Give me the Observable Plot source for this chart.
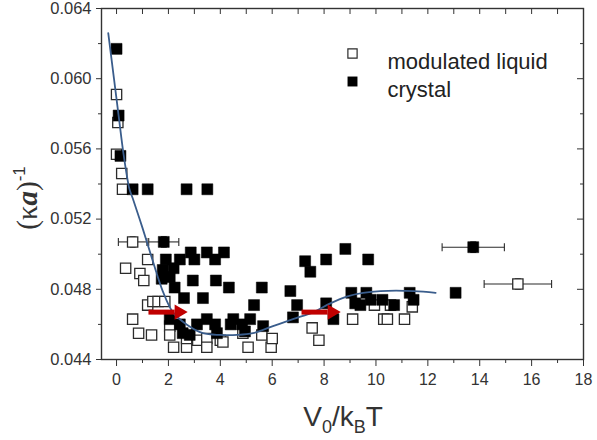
<!DOCTYPE html>
<html>
<head>
<meta charset="utf-8">
<script src="https://cdn.jsdelivr.net/npm/d3@7"></script>
<script src="https://cdn.jsdelivr.net/npm/@observablehq/plot@0.6"></script>
<style>
  body { margin: 0; background: #fff; }
  #chart { width: 597px; height: 440px; }
</style>
</head>
<body>
<div id="chart"></div>
<script>
// Screening length (κa)^-1 versus barrier height V0/kBT

// modulated liquid (open squares)
const liquidV = [0.0, 0.05, 0.0, 0.2, 0.23, 1.2, 0.35, 0.9, 1.05, 1.2, 1.4, 1.6, 1.86,
  0.62, 0.85, 1.35, 2.05, 2.05, 2.2, 2.7, 2.7, 3.13, 3.48, 3.48, 4.0, 4.1, 4.87, 5.07,
  5.6, 5.96, 6.0, 7.54, 7.8, 9.1, 9.94, 10.56, 11.4, 10.3, 10.44, 11.1];
const liquidK = [0.0591, 0.0575, 0.0557, 0.0546, 0.0537, 0.0497, 0.0492, 0.0489, 0.0485, 0.0471, 0.0473, 0.0473, 0.0473,
  0.0463, 0.0455, 0.0454, 0.0459, 0.0454, 0.0447, 0.0447, 0.0452, 0.0451, 0.0452, 0.0447, 0.0451, 0.0450, 0.0455, 0.0447,
  0.0454, 0.0447, 0.0452, 0.0458, 0.0451, 0.0463, 0.0471, 0.0471, 0.0470, 0.0463, 0.0463, 0.0463];

// crystal (filled squares)
const crystalV = [0.0, 0.08, 0.15, 0.62, 1.2, 2.7, 3.5, 2.86, 3.48, 4.14, 1.9, 2.44, 3.0, 3.8,
  2.2, 1.78, 2.05, 1.74, 2.24, 2.94, 3.83, 4.33, 5.6, 6.7, 6.96, 2.6, 3.33, 5.3, 6.8,
  2.05, 3.48, 4.5, 5.15, 2.44, 3.1, 3.8, 4.4, 4.84, 5.65, 2.55, 2.82, 3.87, 4.95,
  8.82, 7.27, 8.08, 9.7, 7.47, 9.05, 9.63, 11.3, 13.07, 8.08, 9.2, 9.4, 9.8, 10.25, 10.7, 11.45, 8.36];
const crystalK = [0.0617, 0.0579, 0.0556, 0.0537, 0.0537, 0.0537, 0.0537, 0.0501, 0.0501, 0.0501, 0.0497, 0.0497, 0.0497, 0.0497,
  0.0492, 0.0491, 0.0487, 0.0486, 0.0481, 0.0485, 0.0485, 0.0481, 0.0481, 0.0479, 0.0471, 0.0475, 0.0475, 0.0471, 0.0464,
  0.0463, 0.0463, 0.0463, 0.0463, 0.0460, 0.0460, 0.0460, 0.0460, 0.0460, 0.0459, 0.0455, 0.0454, 0.0455, 0.0456,
  0.0503, 0.0496, 0.0497, 0.0497, 0.0490, 0.0478, 0.0478, 0.0478, 0.0478, 0.0472, 0.0472, 0.0471, 0.0474, 0.0474, 0.0471, 0.0474, 0.0463];

// points carrying error bars
const errPhase = ["liquid", "crystal", "crystal", "liquid"];
const errV = [0.62, 1.82, 13.75, 15.47];
const errK = [0.0507, 0.0507, 0.0504, 0.0483];
const errDV = [0.55, 0.58, 1.2, 1.3];
const errDK = [0.0003, 0.0003, 0.0003, 0.0003];

// guide-to-the-eye curve
const fitV = [-0.32, 0.08, 0.27, 0.5, 0.62, 1.0, 1.4, 1.78, 2.17, 2.7, 3.33, 4.0, 4.64, 5.26,
  6.03, 6.8, 7.6, 8.24, 8.9, 9.5, 10.17, 11.45, 12.3];
const fitK = [0.0626, 0.0579, 0.0557, 0.0537, 0.0532, 0.0515, 0.0496, 0.0479, 0.0467, 0.0460, 0.0455, 0.0454, 0.0454, 0.0455,
  0.0459, 0.0463, 0.0467, 0.0472, 0.0476, 0.0478, 0.0479, 0.0479, 0.0478];

// red arrows: shaft start, shaft end (head base) and level
const arrowFrom = [1.23, 7.13];
const arrowTo = [2.24, 8.14];
const arrowK = [0.0467, 0.0467];

// axis ticks
const xMajor = [0, 2, 4, 6, 8, 10, 12, 14, 16, 18];
const xMinor = [1, 3, 5, 7, 9, 11, 13, 15, 17];
const yMajor = [0.044, 0.048, 0.052, 0.056, 0.060, 0.064];
const yMinor = [0.046, 0.050, 0.054, 0.058, 0.062];

const legendLabels = ["modulated liquid", "crystal"];

const liquid = liquidV.map((v, i) => ({v, k: liquidK[i]}));
const crystal = crystalV.map((v, i) => ({v, k: crystalK[i]}));
const errs = errV.map((v, i) => ({phase: errPhase[i], v, k: errK[i], dv: errDV[i], dk: errDK[i]}));
const fit = fitV.map((v, i) => ({v, k: fitK[i]}));
const arrows = arrowFrom.map((a, i) => ({a, b: arrowTo[i], k: arrowK[i]}));

// small bar symbols used as error-bar caps
const vCap = {draw(ctx, size) { const r = Math.sqrt(size / Math.PI); ctx.moveTo(0, -r); ctx.lineTo(0, r); }};
const hCap = {draw(ctx, size) { const r = Math.sqrt(size / Math.PI); ctx.moveTo(-r, 0); ctx.lineTo(r, 0); }};

const ink = "#2b2b2b";
const blank = () => "";

const chart = Plot.plot({
  width: 597,
  height: 440,
  marginLeft: 101,
  marginRight: 14,
  marginTop: 8,
  marginBottom: 81,
  style: {fontFamily: "'Liberation Sans', Arial, sans-serif", fontSize: "16px", color: "#333", background: "#fff"},
  x: {domain: [-0.58, 18]},
  y: {domain: [0.044, 0.064]},
  marks: [
    // axes: outward ticks bottom/left, inward ticks top/right
    Plot.axisX({ticks: xMajor, tickSize: 7, tickPadding: 7, fontSize: 16, label: null}),
    Plot.axisX({ticks: xMinor, tickSize: 4, tickFormat: blank, label: null}),
    Plot.axisX({anchor: "top", ticks: xMajor.concat(xMinor), tickSize: -5, tickFormat: blank, label: null}),
    Plot.axisY({ticks: yMajor, tickSize: 5, tickPadding: 5, fontSize: 16.5, tickFormat: d3.format(".3f"), label: null}),
    Plot.axisY({ticks: yMinor, tickSize: 3, tickFormat: blank, label: null}),
    Plot.axisY({anchor: "right", ticks: yMajor, tickSize: -7, tickFormat: blank, label: null}),
    Plot.axisY({anchor: "right", ticks: yMinor, tickSize: -4, tickFormat: blank, label: null}),
    Plot.frame({stroke: "#333", strokeWidth: 1.4}),

    // data
    Plot.dot(liquid, {x: "v", y: "k", symbol: "square", r: 5.8, fill: "#fff", stroke: ink, strokeWidth: 1.3}),
    Plot.dot(crystal, {x: "v", y: "k", symbol: "square", r: 6.2, fill: "#000", stroke: "#000", strokeWidth: 0.5}),

    // error bars
    Plot.link(errs, {x1: d => d.v - d.dv, x2: d => d.v + d.dv, y1: "k", y2: "k", stroke: ink, strokeWidth: 1.1}),
    Plot.dot(errs, {x: d => d.v - d.dv, y: "k", symbol: vCap, r: 4, stroke: ink, strokeWidth: 1.1, fill: "none"}),
    Plot.dot(errs, {x: d => d.v + d.dv, y: "k", symbol: vCap, r: 4, stroke: ink, strokeWidth: 1.1, fill: "none"}),
    Plot.link(errs, {x1: "v", x2: "v", y1: d => d.k - d.dk, y2: d => d.k + d.dk, stroke: ink, strokeWidth: 1.1}),
    Plot.dot(errs, {x: "v", y: d => d.k - d.dk, symbol: hCap, r: 3, stroke: ink, strokeWidth: 1.1, fill: "none"}),
    Plot.dot(errs, {x: "v", y: d => d.k + d.dk, symbol: hCap, r: 3, stroke: ink, strokeWidth: 1.1, fill: "none"}),
    Plot.dot(errs.filter(d => d.phase === "liquid"), {x: "v", y: "k", symbol: "square", r: 5.8, fill: "#fff", stroke: ink, strokeWidth: 1.3}),
    Plot.dot(errs.filter(d => d.phase === "crystal"), {x: "v", y: "k", symbol: "square", r: 6.2, fill: "#000", stroke: "#000", strokeWidth: 0.5}),

    // guide curve
    Plot.line(fit, {x: "v", y: "k", curve: "catmull-rom", stroke: "#3a5d8c", strokeWidth: 1.8}),

    // arrows
    Plot.link(arrows, {x1: "a", x2: "b", y1: "k", y2: "k", stroke: "#c00000", strokeWidth: 5}),
    Plot.dot(arrows, {x: "b", y: "k", symbol: "triangle", rotate: 90, r: 5.6, dx: 4.3, fill: "#c00000", stroke: "none"}),

    // legend
    Plot.dot([legendLabels[0]], {frameAnchor: "top-left", dx: 251, dy: 45, symbol: "square", r: 5.2, fill: "#fff", stroke: ink, strokeWidth: 1.2}),
    Plot.dot([legendLabels[1]], {frameAnchor: "top-left", dx: 251, dy: 73, symbol: "square", r: 5.6, fill: "#000"}),
    Plot.text([legendLabels[0]], {frameAnchor: "top-left", dx: 286, dy: 45, text: d => d, textAnchor: "start", fontSize: 22, fill: "#222"}),
    Plot.text([legendLabels[1]], {frameAnchor: "top-left", dx: 286, dy: 73, text: d => d, textAnchor: "start", fontSize: 22, fill: "#222"})
  ]
});

document.getElementById("chart").append(chart);

// axis titles with sub/superscripts
const svg = d3.select(chart);
const xt = svg.append("text")
  .attr("x", 343).attr("y", 426)
  .attr("text-anchor", "middle")
  .attr("fill", "#333")
  .style("font-family", "'Liberation Sans', Arial, sans-serif")
  .style("font-size", "28px");
xt.append("tspan").text("V");
xt.append("tspan").attr("dy", 7).style("font-size", "18px").text("0");
xt.append("tspan").attr("dy", -7).text("/k");
xt.append("tspan").attr("dy", 7).style("font-size", "18px").text("B");
xt.append("tspan").attr("dy", -7).text("T");

const yt = svg.append("text")
  .attr("transform", "translate(37,198) rotate(-90)")
  .attr("text-anchor", "middle")
  .attr("fill", "#333")
  .style("font-family", "'Liberation Serif', 'Times New Roman', serif")
  .style("font-size", "29px");
yt.append("tspan").text("(\u03ba");
yt.append("tspan").style("font-weight", "bold").style("font-style", "italic").text("a");
yt.append("tspan").text(")");
yt.append("tspan").attr("dy", -12).style("font-size", "17px").style("font-family", "'Liberation Sans', Arial, sans-serif").text("-1");
</script>
</body>
</html>
